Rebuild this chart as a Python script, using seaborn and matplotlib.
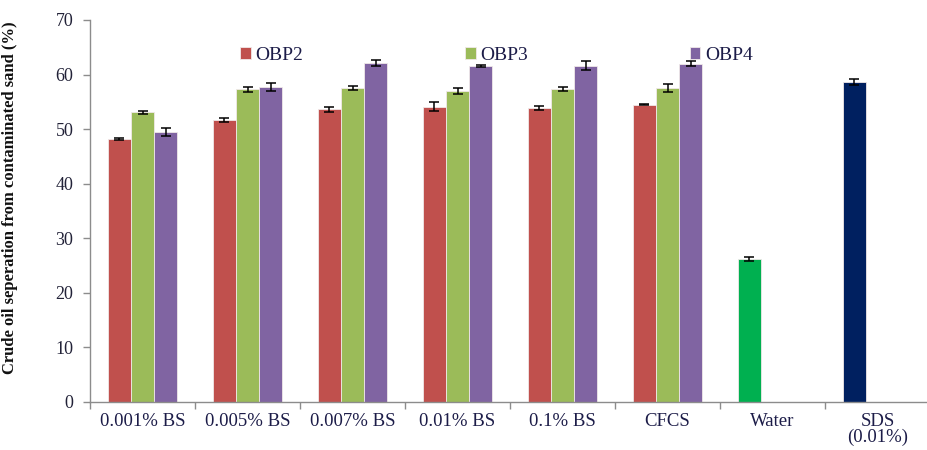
import numpy as np
import pandas as pd
import matplotlib
matplotlib.use("Agg")
import matplotlib.pyplot as plt
import seaborn as sns

# values
categories = ["0.001% BS", "0.005% BS", "0.007% BS", "0.01% BS", "0.1% BS", "CFCS", "Water", "SDS\n(0.01%)"]
series = ["OBP2", "OBP3", "OBP4"]
obp2 = [48.2, 51.7, 53.6, 54.1, 53.9, 54.5]
obp3 = [53.1, 57.3, 57.5, 57.0, 57.3, 57.5]
obp4 = [49.5, 57.7, 62.1, 61.6, 61.6, 62.0]
obp2_err = [0.2, 0.4, 0.5, 0.8, 0.4, 0.1]
obp3_err = [0.3, 0.5, 0.4, 0.5, 0.4, 0.7]
obp4_err = [0.8, 0.7, 0.6, 0.2, 0.8, 0.4]
water = 26.2
water_err = 0.3
sds = 58.6
sds_err = 0.5

colors = {"OBP2": "#C0504D", "OBP3": "#9BBB59", "OBP4": "#8064A2"}
water_color = "#00B050"
sds_color = "#002060"

# long table for seaborn
rows = []
for name, vals, errs in [("OBP2", obp2, obp2_err), ("OBP3", obp3, obp3_err), ("OBP4", obp4, obp4_err)]:
    for cat, v, e in zip(categories[:6], vals, errs):
        rows.append({"cat": cat, "series": name, "value": v, "err": e})
# controls sit in the first slot of their group (single point-coloured series)
rows.append({"cat": categories[6], "series": "OBP2", "value": water, "err": water_err})
rows.append({"cat": categories[7], "series": "OBP2", "value": sds, "err": sds_err})
df = pd.DataFrame(rows)

sns.set_style("ticks")
plt.rcParams["font.family"] = ["Liberation Serif", "DejaVu Serif"]

fig = plt.figure(figsize=(9.27, 4.5), dpi=100)
ax = fig.add_axes([90 / 927, 48 / 450, 840 / 927, 382 / 450])

width = 0.66
sns.barplot(data=df, x="cat", y="value", hue="series", order=categories,
            hue_order=series, palette=colors, width=width, errorbar=None,
            saturation=1, edgecolor="#f0e8e8", linewidth=0.6, ax=ax)

# recolour control bars and add error bars from table
step = width / 3
for p in ax.patches:
    h = p.get_height()
    if np.isnan(h) or h == 0:
        continue
    xc = p.get_x() + p.get_width() / 2
    ci = int(round(xc))
    hi = int(round((xc - ci) / step)) + 1
    cat = categories[ci]
    sub = df[(df["cat"] == cat) & (df["series"] == series[hi])]
    if sub.empty:
        continue
    if cat == "Water":
        p.set_facecolor(water_color)
    elif cat.startswith("SDS"):
        p.set_facecolor(sds_color)
    ax.errorbar(xc, h, yerr=sub["err"].iloc[0], fmt="none", ecolor="black",
                elinewidth=1.1, capsize=3.5, capthick=1.1, zorder=5)

ax.set_ylim(0, 70)
ax.set_yticks(range(0, 71, 10))
ax.set_xlim(-0.5, len(categories) - 0.5)

# ticks at group boundaries, labels at centres
ax.set_xticks(np.arange(-0.5, len(categories), 1))
ax.set_xticklabels([])
ax.set_xticks(np.arange(len(categories)), minor=True)
ax.set_xticklabels(categories, minor=True, fontsize=13.5, color="#1c1c48",
                   linespacing=0.9, va="top")
ax.tick_params(axis="x", which="minor", length=0, pad=8)
ax.tick_params(axis="x", which="major", length=5, width=1, color="#8c8c8c")
ax.tick_params(axis="y", length=5, width=1, color="#8c8c8c", labelsize=13,
               labelcolor="#222238", pad=7)

for s in ["top", "right"]:
    ax.spines[s].set_visible(False)
for s in ["left", "bottom"]:
    ax.spines[s].set_color("#8c8c8c")
    ax.spines[s].set_linewidth(1)

ax.set_xlabel("")
ax.set_ylabel("Crude oil seperation from contaminated sand (%)", fontsize=12,
              fontweight="bold", color="#111111")
ax.yaxis.set_label_coords(-0.086, 0.535)

leg = ax.legend(loc="upper center", bbox_to_anchor=(0.484, 0.975), ncol=3,
                frameon=False, fontsize=14, handlelength=0.55, handleheight=0.55,
                handletextpad=0.25, columnspacing=8.3)
for t in leg.get_texts():
    t.set_color("#1c1c48")

fig.savefig("out.png", dpi=100)
